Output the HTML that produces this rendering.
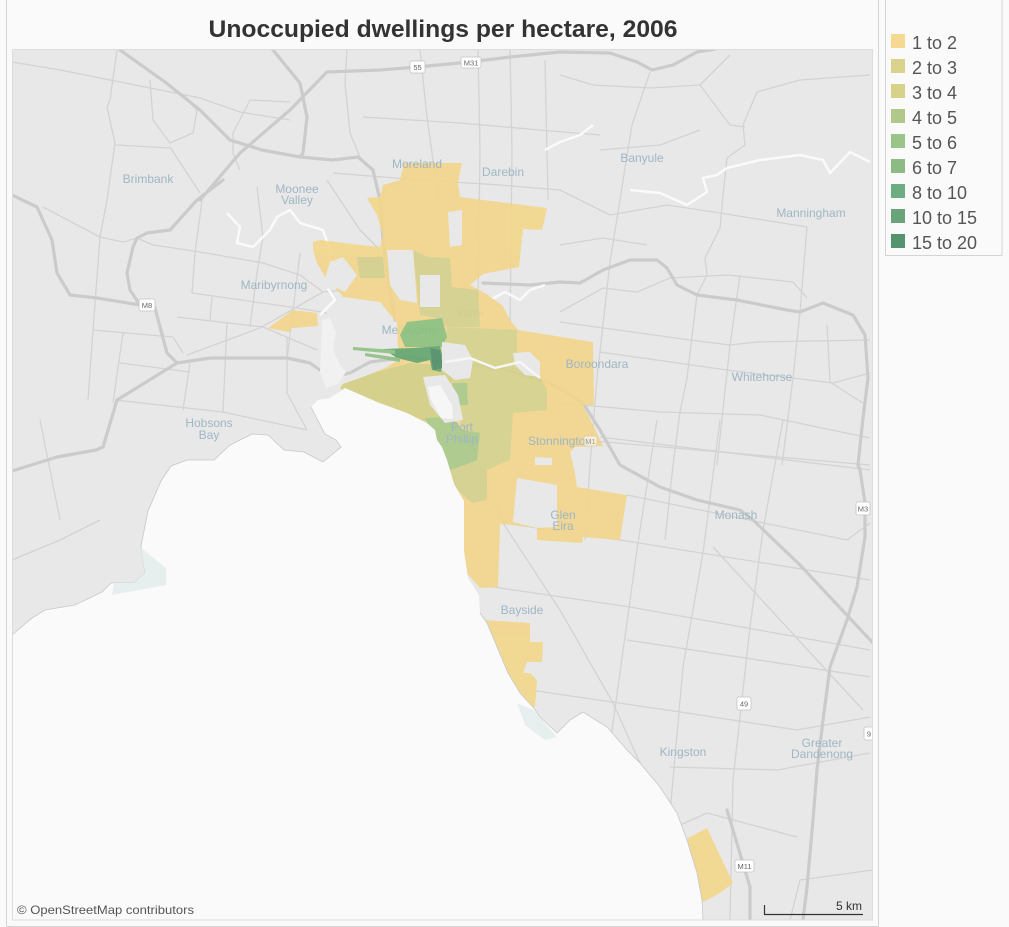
<!DOCTYPE html>
<html><head><meta charset="utf-8"><style>
html,body{margin:0;padding:0;background:#fafafa;}
svg{display:block;}
</style></head><body>
<svg width="1009" height="927" viewBox="0 0 1009 927" xmlns="http://www.w3.org/2000/svg" font-family="'Liberation Sans', sans-serif">
<defs><clipPath id="mc"><rect x="12" y="49" width="861" height="871"/></clipPath></defs>
<rect width="1009" height="927" fill="#fafafa"/>
<line x1="6.5" y1="0" x2="6.5" y2="926.5" stroke="#d4d4d4"/>
<line x1="6.5" y1="926.5" x2="878.5" y2="926.5" stroke="#d4d4d4"/>
<line x1="878.5" y1="0" x2="878.5" y2="926.5" stroke="#d4d4d4"/>
<text x="443" y="37" text-anchor="middle" font-size="24" font-weight="bold" fill="#333" textLength="469" lengthAdjust="spacingAndGlyphs">Unoccupied dwellings per hectare, 2006</text>

<g clip-path="url(#mc)">
<rect x="12" y="49" width="861" height="871" fill="#e8e8e8"/>
<!-- thin roads -->
<g fill="none" stroke="#d3d3d3" stroke-width="1.3" stroke-linejoin="round">
<polyline points="12,62 60,70 110,80 150,88 200,98 240,112 290,120"/>
<polyline points="117,50 110,100 107,107 115,143 107,200 100,237 93,330 88,400"/>
<polyline points="115,145 170,148"/>
<polyline points="150,80 153,120 170,143 193,133 197,110 187,100"/>
<polyline points="170,147 200,193"/>
<polyline points="250,100 290,102"/>
<polyline points="250,100 233,133 233,153 240,170"/>
<polyline points="347,50 345,83 350,133 360,157"/>
<polyline points="420,50 427,117 433,160 440,200"/>
<polyline points="363,117 460,123 540,130 600,135"/>
<polyline points="333,173 420,180 500,185 560,190 610,215 667,205 720,213 807,227"/>
<polyline points="43,207 100,237 123,242 137,238"/>
<polyline points="137,238 153,245 200,252 263,263 300,275 323,292"/>
<polyline points="187,355 260,328 323,292 345,290"/>
<polyline points="93,330 173,337 183,353"/>
<polyline points="177,317 263,327 317,350"/>
<polyline points="192,293 297,308 327,313"/>
<polyline points="192,293 195,253 203,193"/>
<polyline points="212,297 210,320"/>
<polyline points="227,323 223,413"/>
<polyline points="190,363 183,410"/>
<polyline points="120,363 190,372"/>
<polyline points="123,333 113,403"/>
<polyline points="115,400 223,412 307,430"/>
<polyline points="287,337 287,393 307,430"/>
<polyline points="257,187 263,237 257,273 250,327"/>
<polyline points="300,253 287,360"/>
<polyline points="327,180 360,230 380,250"/>
<polyline points="478,50 480,150 478,300"/>
<polyline points="510,50 512,150 510,330"/>
<polyline points="545,60 548,200"/>
<polyline points="560,75 593,85 650,88 700,85 730,125 745,127"/>
<polyline points="632,125 610,262 597,378 590,465 585,540"/>
<polyline points="650,72 632,125"/>
<polyline points="757,92 743,125 745,145 727,158 723,195 720,228 705,258 707,275 697,295 687,378 680,412 673,465 665,540"/>
<polyline points="807,227 800,312 793,378 782,465"/>
<polyline points="740,275 730,345 717,465"/>
<polyline points="560,322 690,340 730,345 757,342 870,340"/>
<polyline points="600,352 727,370 833,383 870,373"/>
<polyline points="560,403 660,412 760,415 870,438"/>
<polyline points="560,438 870,465"/>
<polyline points="560,245 603,238 647,245"/>
<polyline points="560,312 603,288 637,292 670,278 727,275 793,282 807,298"/>
<polyline points="827,325 830,382 850,395 863,403"/>
<polyline points="757,92 800,80 870,75"/>
<polyline points="700,85 730,55"/>
<polyline points="657,420 638,543 612,730 605,780"/>
<polyline points="720,420 703,553 683,667 670,813 660,860"/>
<polyline points="783,420 763,530 750,627 733,780 730,920"/>
<polyline points="600,437 870,470"/>
<polyline points="627,495 847,540 870,523"/>
<polyline points="503,523 620,540 870,580"/>
<polyline points="480,585 630,607 870,650"/>
<polyline points="627,640 870,677"/>
<polyline points="530,690 687,713 797,730 870,717"/>
<polyline points="670,767 777,770 870,753"/>
<polyline points="680,825 707,813 797,837"/>
<polyline points="470,440 503,523 560,610 613,703 640,763 680,870 700,920"/>
<polyline points="713,547 863,710"/>
<polyline points="600,150 660,145 700,130"/>
<polyline points="12,560 60,540 100,520"/>
<polyline points="40,420 60,520"/>
<polyline points="790,920 800,880 873,870"/>
</g>
<!-- major roads -->
<g fill="none" stroke="#cbcbcb" stroke-width="3.2" stroke-linejoin="round" stroke-linecap="round">
<polyline points="12,195 37,207 52,240 57,273 70,295 97,298 140,305 155,308 160,327 167,353 177,363 210,358 287,358 310,363 330,377 350,373 370,362 410,357 440,362 500,368 550,383 583,403 600,430 620,465 660,487 697,500 740,510 753,520 800,565 873,643"/>
<polyline points="177,363 117,400 103,447 96,450 57,457 12,471"/>
<polyline points="120,50 165,82 200,110 230,140 262,150 300,157 333,160 358,157 373,170 380,200 383,240 388,280 395,320"/>
<polyline points="200,200 240,153 290,110 327,72 380,70 417,67 470,62 510,57 560,52 610,53 637,62 652,70 673,65 697,52 715,49"/>
<polyline points="223,180 197,200 170,230 147,233 137,238 133,247 127,273 130,290 140,305"/>
<polyline points="273,50 300,83 307,117 303,153 300,157"/>
<polyline points="483,283 530,285 560,282 580,283 603,270 630,260 657,260 667,268 677,285 697,295 737,300 787,310 800,312 823,303 853,315 865,335 868,378 863,418 858,465 860,470 865,503 865,537 857,587 847,620 830,667 823,720 817,770 813,820 807,887 803,920"/>
<polyline points="727,810 750,887 750,920"/>
</g>
<!-- rivers -->
<g fill="none" stroke="#fafafa" stroke-width="2.5" stroke-linejoin="round">
<polyline points="630,190 660,193 687,205 707,192 703,178 717,175 727,168 760,160 800,155 823,160 830,173 850,152 870,162"/>
<polyline points="545,150 560,142 580,135 593,125"/>
<polyline points="227,213 240,227 237,243 253,247 270,230 277,217 290,210 300,223 323,230 330,250 330,277 327,287 335,300 320,315"/>
<polyline points="490,300 505,292 520,300 530,290 545,285"/>
</g>
<polygon points="322,320 330,318 336,332 333,350 340,365 346,372 338,384 326,388 320,372" fill="#f1f1f1"/>
<text x="410" y="334" text-anchor="middle" font-size="12" fill="#9fb6c4">Melbourne</text>
<text x="470" y="317" text-anchor="middle" font-size="12" fill="#9fb6c4">Yarra</text>
<!-- regions -->
<g opacity="0.9">
<polygon fill="#f2d68a" points="404,163 462,163 458,182 460,197 547,208 542,230 523,229 519,267 483,274 470,285 488,295 503,306 510,320 518,330 593,342 594,405 583,405 597,433 603,446 575,447 570,452 575,473 577,487 627,495 620,540 583,537 582,543 537,540 537,528 515,525 500,524 498,587 480,588 455,560 450,500 430,450 400,420 360,405 340,392 343,384 360,378 385,368 395,362 398,350 397,323 380,302 343,297 333,285 325,277 317,263 313,250 313,242 320,240 360,245 380,247 383,235 377,215 367,198 380,197 383,185 400,180"/>
<polygon fill="#f2d68a" points="268,328 293,310 317,313 318,326 292,328 289,332"/>
<polygon fill="#f2d68a" points="470,620 483,620 530,623 530,642 543,642 542,662 527,662 523,673 530,673 537,680 535,707 520,712 500,690"/>
<polygon fill="#f2d68a" points="675,845 707,828 733,883 720,893 703,902 690,905"/>
<polygon fill="#d5d08a" points="413,250 428,257 450,258 452,287 478,290 480,327 447,327 437,318 420,315"/>
<polygon fill="#d2cf8a" points="357,257 383,257 385,278 360,278"/>
<polygon fill="#d6d18a" points="447,327 517,330 517,352 540,377 547,390 547,410 513,413 510,460 487,470 470,465 460,420 455,390 450,370 445,345"/>
<polygon fill="#d3cf84" points="340,388 343,384 377,372 410,363 440,365 455,372 447,395 455,420 460,440 470,465 455,470 440,450 420,425 380,410"/>
<polygon fill="#a9c887" points="425,418 450,417 463,430 480,433 477,460 473,462 450,470 440,450"/>
<polygon fill="#d4d08a" points="450,470 473,462 487,470 487,500 472,503 455,488"/>
<polygon fill="#a9c887" points="452,383 467,383 468,405 455,405"/>
<polygon fill="#8cbf7c" points="407,322 442,318 447,337 442,347 405,347 400,335"/>
<polygon fill="#62a46d" points="383,349 413,348 440,346 443,358 441,372 432,370 430,360 417,363 397,358"/>
<polygon fill="#4f8d68" points="430,348 440,350 443,368 433,370"/>
<polygon fill="#8fbf84" points="353,347 395,350 395,354 353,350"/>
<polygon fill="#8fbf84" points="365,353 400,358 400,362 365,356"/>
</g>
<!-- holes -->
<g fill="#e8e8e8">
<polygon points="323,285 330,262 343,257 357,275 345,292 333,286 325,290"/>
<polygon points="387,250 413,250 417,303 400,300 390,285"/>
<polygon points="420,275 440,275 440,307 420,307"/>
<polygon points="448,212 462,210 462,245 450,247"/>
<polygon points="442,342 465,345 473,360 470,378 455,380 442,370"/>
<polygon points="513,353 530,352 540,362 540,377 525,375 515,365"/>
<polygon points="423,377 445,375 458,395 463,420 445,423 430,405"/>
<polygon points="517,478 557,485 557,527 537,528 513,522"/>
<polygon points="535,457 552,458 552,465 535,465"/>
</g>
<polygon points="428,387 440,385 452,405 453,419 441,418 431,400" fill="#f6f6f6"/>
<polyline points="445,362 470,358 495,368 520,362 540,378" fill="none" stroke="#f6f6f6" stroke-width="2.5"/>
<!-- water -->
<polygon fill="#fafafa" points="12,635 32,618 45,610 75,605 102,592 111,583 134,583 145,573 141,546 148,511 161,481 171,466 187,460 214,460 230,445 252,434 268,435 284,450 304,452 323,462 341,447 336,440 325,434 314,413 311,407 318,400 330,398 345,388 377,402 407,413 427,423 435,430 437,440 442,447 447,460 450,470 454,484 464,501 464,518 464,551 468,578 479,595 480,613 487,623 508,673 520,693 533,707 540,717 557,733 570,720 583,712 607,727 627,750 640,763 660,787 677,813 687,840 697,873 702,900 703,920 12,920"/>
<polyline fill="none" stroke="#c8c8c8" stroke-width="0.8" points="12,635 32,618 45,610 75,605 102,592 111,583 134,583 145,573 141,546 148,511 161,481 171,466 187,460 214,460 230,445 252,434 268,435 284,450 304,452 323,462 341,447 336,440 325,434 314,413 311,407"/>
<polyline fill="none" stroke="#c8c8c8" stroke-width="0.8" points="480,613 487,623 508,673 520,693 533,707 540,717 557,733 570,720 583,712 607,727 627,750 640,763 660,787 677,813 687,840 697,873 702,900 703,920"/>
<polygon fill="#e6efee" points="141,548 166,568 166,585 112,595 114,583 134,583 145,573"/>
<polygon fill="#e6efee" points="517,703 533,710 557,737 545,740 525,725"/>
<!-- labels -->
<g font-size="12" fill="#9fb6c4" text-anchor="middle">
<text x="148" y="183">Brimbank</text>
<text x="297" y="193">Moonee</text>
<text x="297" y="204">Valley</text>
<text x="417" y="168">Moreland</text>
<text x="503" y="176">Darebin</text>
<text x="642" y="162">Banyule</text>
<text x="811" y="217">Manningham</text>
<text x="274" y="289">Maribyrnong</text>
<text x="597" y="368">Boroondara</text>
<text x="762" y="381">Whitehorse</text>
<text x="209" y="427">Hobsons</text>
<text x="209" y="439">Bay</text>
<text x="462" y="431">Port</text>
<text x="462" y="443">Phillip</text>
<text x="560" y="445">Stonnington</text>
<text x="563" y="519">Glen</text>
<text x="563" y="530">Eira</text>
<text x="736" y="519">Monash</text>
<text x="522" y="614">Bayside</text>
<text x="683" y="756">Kingston</text>
<text x="822" y="747">Greater</text>
<text x="822" y="758">Dandenong</text>
</g>
<!-- shields -->
<g font-size="7.5" fill="#666" text-anchor="middle" stroke-width="0.8">
<rect x="410" y="61" width="15" height="12" rx="2" fill="#fff" stroke="#c4c4c4"/><text x="417.5" y="70">55</text>
<rect x="461" y="57" width="20" height="11" rx="2" fill="#fff" stroke="#c4c4c4"/><text x="471" y="65.5">M31</text>
<rect x="139" y="299" width="16" height="12" rx="2" fill="#fff" stroke="#c4c4c4"/><text x="147" y="308">M8</text>
<rect x="856" y="502" width="14" height="13" rx="2" fill="#fff" stroke="#c4c4c4"/><text x="863" y="511.5">M3</text>
<rect x="737" y="697" width="14" height="13" rx="2" fill="#fff" stroke="#c4c4c4"/><text x="744" y="706.5">49</text>
<rect x="864" y="727" width="10" height="13" rx="2" fill="#fff" stroke="#c4c4c4"/><text x="869" y="736.5">9</text>
<rect x="735" y="860" width="19" height="12" rx="2" fill="#fff" stroke="#c4c4c4"/><text x="744.5" y="869">M11</text>
<rect x="584" y="436" width="13" height="10" rx="2" fill="#fff" stroke="#c4c4c4" opacity="0.6"/><text x="590.5" y="444" opacity="0.6">M1</text>
</g>
<!-- attribution & scale -->
<text x="17" y="914" font-size="12" fill="#555" textLength="177" lengthAdjust="spacingAndGlyphs">© OpenStreetMap contributors</text>
<text x="862" y="910" font-size="12" fill="#333" text-anchor="end">5 km</text>
<polyline points="764.5,905 764.5,914.5 863,914.5" fill="none" stroke="#333" stroke-width="1.2"/>
</g>
<rect x="12.5" y="49.5" width="860" height="870.5" fill="none" stroke="#dcdcdc"/>

<!-- legend -->
<rect x="885.5" y="-1" width="116.5" height="256.5" fill="#fafafa" stroke="#d4d4d4"/>
<g font-size="18" fill="#555">
<rect x="891" y="34" width="14" height="14" fill="#f5d993"/><text x="912" y="49">1 to 2</text>
<rect x="891" y="59" width="14" height="14" fill="#d9d38c"/><text x="912" y="74">2 to 3</text>
<rect x="891" y="84" width="14" height="14" fill="#d7d28a"/><text x="912" y="99">3 to 4</text>
<rect x="891" y="109" width="14" height="14" fill="#b0c98a"/><text x="912" y="124">4 to 5</text>
<rect x="891" y="134" width="14" height="14" fill="#9ac48a"/><text x="912" y="149">5 to 6</text>
<rect x="891" y="159" width="14" height="14" fill="#8dbb84"/><text x="912" y="174">6 to 7</text>
<rect x="891" y="184" width="14" height="14" fill="#6cae82"/><text x="912" y="199">8 to 10</text>
<rect x="891" y="209" width="14" height="14" fill="#6aa47a"/><text x="912" y="224">10 to 15</text>
<rect x="891" y="234" width="14" height="14" fill="#55946f"/><text x="912" y="249">15 to 20</text>
</g>
</svg>
</body></html>
